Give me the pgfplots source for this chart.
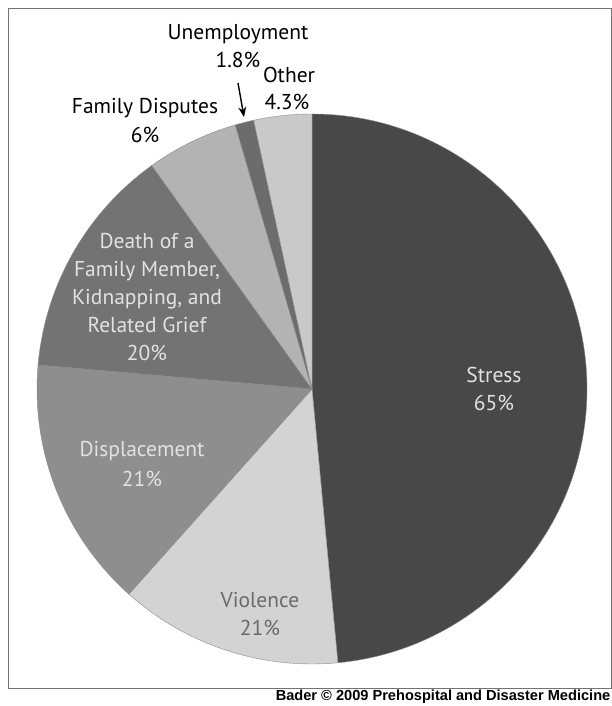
\documentclass[border=0pt]{standalone}
\usepackage{pgfplots}
\pgfplotsset{compat=1.18}
\usepackage{pgfplotstable}
\usepackage{fontspec}
\setmainfont{PT Sans}
\newfontfamily\footfont{Liberation Sans}
\usetikzlibrary{arrows.meta}

\definecolor{slice0}{HTML}{484848}
\definecolor{slice1}{HTML}{D3D3D3}
\definecolor{slice2}{HTML}{8E8E8E}
\definecolor{slice3}{HTML}{737373}
\definecolor{slice4}{HTML}{B3B3B3}
\definecolor{slice5}{HTML}{6C6C6C}
\definecolor{slice6}{HTML}{C9C9C9}
\definecolor{lighttext}{HTML}{E2E2E2}
\definecolor{darktext}{HTML}{6A6A6A}

% share of the drawn pie (percent of full circle), clockwise from 12 o'clock
\pgfplotstableread{
label        share
Stress       48.5
Violence     13.1
Displacement 14.8
Death        13.7
Family       5.4
Unemployment 1.1
Other        3.4
}\piedata

\gdef\piecmds{}
\gdef\cumangle{90}
\pgfplotstableforeachcolumnelement{share}\of\piedata\as\v{%
  \pgfmathsetmacro\ea{\cumangle - 3.6*\v}%
  \xdef\piecmds{\piecmds
    \noexpand\fill[slice\pgfplotstablerow, draw=black!45, line width=0.4pt]
      (axis cs:312,317) -- ++(\cumangle:275bp)
      arc[start angle=\cumangle, end angle=\ea, radius=275bp] -- cycle;}%
  \xdef\cumangle{\ea}%
}

\begin{document}
\begin{tikzpicture}
\begin{axis}[
  width=612bp, height=706bp, scale only axis,
  xmin=0, xmax=612, ymin=0, ymax=706,
  hide axis, clip=false,
]
\coordinate (bl) at (axis cs:0,0);
\coordinate (tr) at (axis cs:612,706);
% frame
\draw[black!55, line width=0.8pt] (axis cs:8,18) rectangle (axis cs:611.5,698);
% pie
\piecmds
% labels
\begin{scope}[every node/.style={font=\fontsize{21.5bp}{28bp}\selectfont, align=center, inner sep=0pt}]
\node[lighttext] at (axis cs:494,331) {Stress};
\node[lighttext] at (axis cs:494,303) {65\%};
\node[darktext] at (axis cs:260,106) {Violence};
\node[darktext] at (axis cs:260,78) {21\%};
\node[lighttext] at (axis cs:142,255) {Displacement};
\node[lighttext] at (axis cs:142,227) {21\%};
\node[lighttext] at (axis cs:147,409) {Death of a\\Family Member,\\Kidnapping, and\\Related Grief\\20\%};
\node[black] at (axis cs:145,598) {Family Disputes};
\node[black] at (axis cs:145,571) {6\%};
\node[black] at (axis cs:238,672) {Unemployment};
\node[black] at (axis cs:238,646) {1.8\%};
\node[black] at (axis cs:289,631) {Other};
\node[black] at (axis cs:287,604) {4.3\%};
\end{scope}
\draw[-{Stealth[length=10bp,width=8bp]}, line width=1.4pt] (axis cs:238,623) -- (axis cs:244,589);
\node[anchor=east, inner sep=0pt, font=\footfont\bfseries\fontsize{14.6bp}{16bp}\selectfont] at (axis cs:610.5,9) {Bader \textcopyright\ 2009 Prehospital and Disaster Medicine};
\end{axis}
\pgfresetboundingbox
\path[use as bounding box] (bl) rectangle (tr);
\end{tikzpicture}
\end{document}
